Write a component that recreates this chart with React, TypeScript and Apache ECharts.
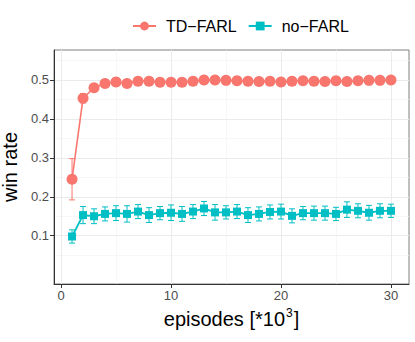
import React, { useEffect, useRef } from "react";
import * as echarts from "echarts";

const episodes = [1,2,3,4,5,6,7,8,9,10,11,12,13,14,15,16,17,18,19,20,21,22,23,24,25,26,27,28,29,30];
const tdFarl = [0.245,0.453,0.480,0.491,0.495,0.491,0.497,0.497,0.494,0.494,0.494,0.497,0.500,0.500,0.499,0.498,0.497,0.496,0.497,0.495,0.497,0.498,0.497,0.496,0.498,0.496,0.498,0.499,0.499,0.500];
const tdFarlErr = [0.053,0.012,0.008,0.006,0.005,0.005,0.004,0.004,0.004,0.004,0.004,0.004,0.003,0.003,0.003,0.003,0.003,0.003,0.003,0.003,0.003,0.003,0.003,0.003,0.003,0.003,0.003,0.003,0.003,0.003];
const noFarl = [0.098,0.153,0.150,0.156,0.158,0.156,0.162,0.153,0.158,0.159,0.156,0.162,0.170,0.160,0.160,0.162,0.153,0.156,0.161,0.162,0.151,0.158,0.158,0.158,0.156,0.167,0.164,0.159,0.164,0.164];
const noFarlErr = [0.017,0.022,0.019,0.018,0.019,0.021,0.018,0.019,0.017,0.020,0.019,0.018,0.018,0.020,0.017,0.018,0.019,0.018,0.018,0.019,0.018,0.017,0.018,0.018,0.017,0.020,0.018,0.019,0.018,0.017];
const xTicks = [0, 10, 20, 30];
const xMinor = [5, 15, 25];
const yTicks = [0.1, 0.2, 0.3, 0.4, 0.5];
const yMinor = [0.05, 0.15, 0.25, 0.35, 0.45, 0.55];

const RED = "#F8766D";
const CYAN = "#00BFC4";

function errSeries(name: string, vals: number[], errs: number[], color: string, cap: number, z: number) {
  return {
    type: "custom",
    name,
    z,
    silent: true,
    emphasis: { disabled: true },
    xAxisIndex: 0,
    yAxisIndex: 0,
    itemStyle: { color },
    data: episodes.map((x, i) => [x, vals[i] - errs[i], vals[i] + errs[i]]),
    renderItem: (params: any, api: any) => {
      const x = api.value(0);
      const lo = api.coord([x, api.value(1)]);
      const hi = api.coord([x, api.value(2)]);
      return {
        type: "path",
        shape: {
          pathData:
            `M${lo[0] - cap},${lo[1]}L${lo[0] + cap},${lo[1]}` +
            `M${hi[0] - cap},${hi[1]}L${hi[0] + cap},${hi[1]}` +
            `M${lo[0]},${lo[1]}L${hi[0]},${hi[1]}`,
        },
        style: { stroke: color, lineWidth: 1, fill: "none" },
        emphasisDisabled: true,
      };
    },
  };
}

export default function App() {
  const ref = useRef<HTMLDivElement>(null);
  useEffect(() => {
    const chart = echarts.init(ref.current!, null, { renderer: "svg" });
    const font = "Liberation Sans, Arial, sans-serif";
    const xr = { min: -0.64, max: 31.64 };
    const yr = { min: -0.024, max: 0.577 };
    chart.setOption({
      animation: false,
      textStyle: { fontFamily: font },
      legend: {
        left: 127,
        top: 13,
        itemWidth: 23,
        itemHeight: 11,
        itemGap: 11,
        selectedMode: false,
        textStyle: { fontSize: 16, color: "#000", padding: [0, 0, 0, 5], fontFamily: font },
        data: ["TD\u2212FARL", "no\u2212FARL"],
      },
      grid: {
        left: 54, right: 6, top: 50, bottom: 58,
        outerBoundsMode: "none",
        containLabel: false,
        show: true, borderColor: "#7F7F7F", borderWidth: 1, backgroundColor: "#fff",
      },
      xAxis: [
        {
          type: "value", ...xr,
          name: "{a|episodes [*10}{sup|3}{a|]}",
          nameLocation: "middle",
          nameGap: 22,
          nameTextStyle: {
            fontSize: 20, color: "#000", fontFamily: font,
            rich: {
              a: { fontSize: 20, color: "#000", fontFamily: font, verticalAlign: "bottom" },
              sup: { fontSize: 12, color: "#000", fontFamily: font, verticalAlign: "bottom", padding: [0, 1, 10, 1] },
            },
          },
          axisLine: { show: true, onZero: false, lineStyle: { color: "#333", width: 1 } },
          axisTick: { show: true, length: 4, customValues: xTicks, lineStyle: { color: "#333" } },
          axisLabel: { customValues: xTicks, fontSize: 13, color: "#4D4D4D", margin: 5, fontFamily: font },
          splitLine: { show: true, lineStyle: { color: "#EBEBEB", width: 1 } },
          z: 2,
        },
        {
          type: "value", ...xr, position: "bottom",
          axisLine: { show: false },
          axisTick: { show: false, customValues: xMinor },
          axisLabel: { show: false, customValues: xMinor },
          splitLine: { show: true, lineStyle: { color: "#F3F3F3", width: 0.7 } },
          z: 1,
        },
      ],
      yAxis: [
        {
          type: "value", ...yr,
          name: "win rate",
          nameLocation: "middle",
          nameRotate: 90,
          nameGap: 27,
          nameTextStyle: { fontSize: 20, color: "#000", fontFamily: font },
          axisLine: { show: true, onZero: false, lineStyle: { color: "#333", width: 1 } },
          axisTick: { show: true, length: 4, customValues: yTicks, lineStyle: { color: "#333" } },
          axisLabel: {
            customValues: yTicks, fontSize: 13, color: "#4D4D4D", margin: 5, fontFamily: font,
            formatter: (v: number) => v.toFixed(1),
          },
          splitLine: { show: true, lineStyle: { color: "#EBEBEB", width: 1 } },
          z: 2,
        },
        {
          type: "value", ...yr, position: "left",
          axisLine: { show: false },
          axisTick: { show: false, customValues: yMinor },
          axisLabel: { show: false, customValues: yMinor },
          splitLine: { show: true, lineStyle: { color: "#F3F3F3", width: 0.7 } },
          z: 1,
        },
      ],
      series: [
        {
          type: "line",
          name: "TD\u2212FARL",
          data: episodes.map((x, i) => [x, tdFarl[i]]),
          symbol: "circle",
          symbolSize: 11,
          color: RED,
          itemStyle: { color: RED },
          lineStyle: { color: RED, width: 1.6 },
          silent: true,
          emphasis: { disabled: true },
          z: 4,
        },
        {
          type: "line",
          name: "no\u2212FARL",
          data: episodes.map((x, i) => [x, noFarl[i]]),
          symbol: "rect",
          symbolSize: 8,
          color: CYAN,
          itemStyle: { color: CYAN },
          lineStyle: { color: CYAN, width: 1.8 },
          silent: true,
          emphasis: { disabled: true },
          z: 4,
        },
        errSeries("tdErr", tdFarl, tdFarlErr, RED, 3, 3),
        errSeries("noErr", noFarl, noFarlErr, CYAN, 3, 3),
      ],
    });
    return () => chart.dispose();
  }, []);
  return <div ref={ref} style={{ width: 415, height: 342, position: "absolute", left: 0, top: 0 }} />;
}
